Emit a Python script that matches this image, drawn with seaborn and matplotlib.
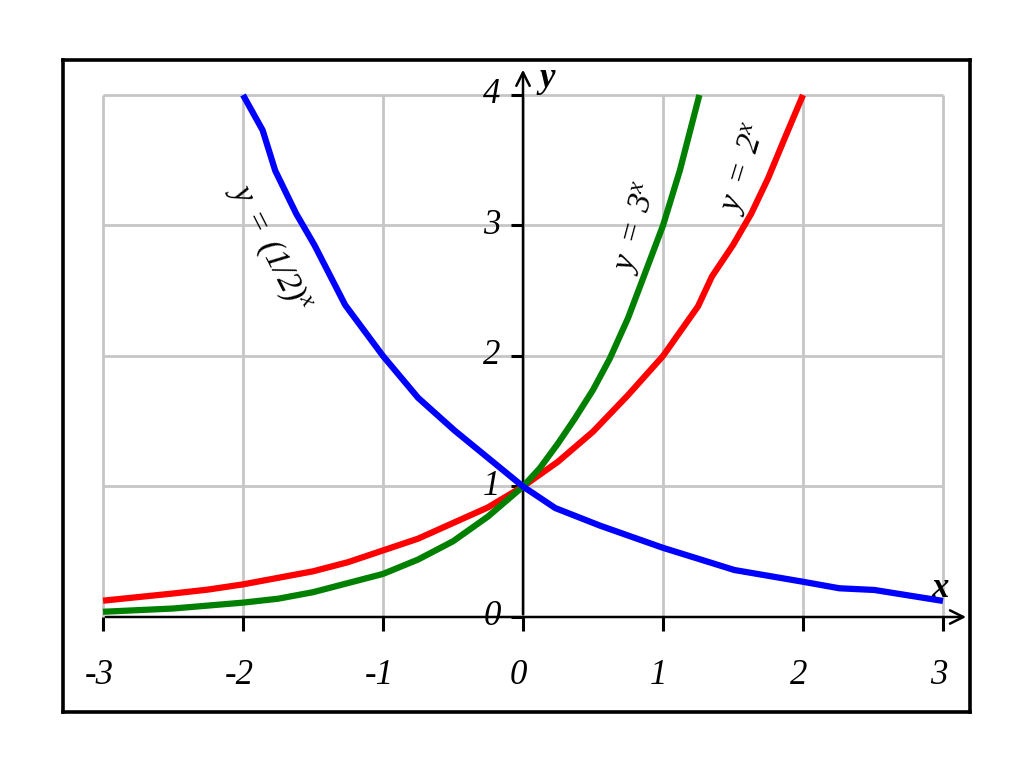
import matplotlib
matplotlib.use("Agg")
import matplotlib.pyplot as plt
import seaborn as sns
import pandas as pd

sns.set_theme(style="white")
plt.rcParams['font.family'] = ['Liberation Serif', 'DejaVu Serif']
plt.rcParams['text.color'] = 'black'
plt.rcParams['mathtext.fontset'] = 'custom'
plt.rcParams['mathtext.it'] = 'Liberation Serif:italic'
plt.rcParams['mathtext.rm'] = 'Liberation Serif:italic'
plt.rcParams['lines.linewidth'] = 4.5

# ---- data ----
blue_x = [-2, -1.86, -1.77, -1.62, -1.49, -1.38, -1.27, -1.0, -0.75, -0.49, 0, 0.23, 0.55, 1.0, 1.51, 2.0, 2.26, 2.51, 3.0]
blue_y = [4.0, 3.73, 3.42, 3.09, 2.85, 2.62, 2.39, 2.0, 1.68, 1.43, 1.0, 0.835, 0.70, 0.53, 0.36, 0.27, 0.22, 0.207, 0.123]

red_x = [-3, -2.5, -2.25, -2, -1.75, -1.5, -1.25, -1, -0.75, -0.5, -0.25, 0, 0.25, 0.5, 0.75, 1, 1.25, 1.35, 1.5, 1.63, 1.75, 1.87, 2]
red_y = [0.125, 0.18, 0.21, 0.25, 0.30, 0.35, 0.42, 0.51, 0.60, 0.72, 0.84, 1.0, 1.19, 1.42, 1.70, 2.0, 2.38, 2.61, 2.85, 3.09, 3.36, 3.67, 4.0]

green_x = [-3, -2.5, -2, -1.75, -1.5, -1.25, -1, -0.75, -0.5, -0.25, 0, 0.12, 0.25, 0.37, 0.5, 0.62, 0.75, 0.87, 1.0, 1.12, 1.26]
green_y = [0.04, 0.065, 0.11, 0.14, 0.19, 0.26, 0.33, 0.44, 0.58, 0.77, 1.0, 1.14, 1.33, 1.52, 1.74, 1.98, 2.29, 2.63, 3.0, 3.42, 4.0]

x_ticks = [-3, -2, -1, 0, 1, 2, 3]
x_tick_labels = ['-3', '-2', '-1', '0', '1', '2', '3']
y_ticks = [0, 1, 2, 3, 4]
y_tick_labels = ['0', '1', '2', '3', '4']
grid_y = [1, 2, 3, 4]

fig = plt.figure(figsize=(10.24, 7.68), dpi=100)
ax = fig.add_axes([63/1024, 1 - 712/768, 907/1024, 652/768])
XL = (-3.286, 3.193)
YL = (-0.728, 4.268)
ax.set_xticks([]); ax.set_yticks([])
for s in ax.spines.values():
    s.set_visible(True)
    s.set_color('black')
    s.set_linewidth(2.6)

# grid
ax.vlines(x_ticks, 0, 4, color='#c6c6c6', lw=2.0, zorder=1)
ax.hlines(grid_y, -3, 3, color='#c6c6c6', lw=2.0, zorder=1)

# axes with arrows
ax.annotate('', xy=(3.185, 0), xytext=(-3, 0),
            arrowprops=dict(arrowstyle='->', color='black', lw=1.8, mutation_scale=24), zorder=3)
ax.annotate('', xy=(0, 4.215), xytext=(0, 0),
            arrowprops=dict(arrowstyle='->', color='black', lw=1.8, mutation_scale=24), zorder=3)
# ticks
ax.vlines(x_ticks, -0.11, 0, color='black', lw=2.2, zorder=3)
ax.hlines(y_ticks, -0.085, 0, color='black', lw=2.2, zorder=3)

# curves
df_b = pd.DataFrame({'x': blue_x, 'y': blue_y})
df_r = pd.DataFrame({'x': red_x, 'y': red_y})
df_g = pd.DataFrame({'x': green_x, 'y': green_y})
for df, col, z in [(df_r, '#ff0000', 4), (df_g, '#008000', 5), (df_b, '#0000ff', 6)]:
    sns.lineplot(data=df, x='x', y='y', ax=ax, color=col, estimator=None, sort=False,
                 linewidth=4.5, zorder=z)
for ln in ax.get_lines():
    ln.set_linewidth(4.5)
    ln.set_solid_joinstyle('round')
    ln.set_solid_capstyle('butt')
ax.set_xlabel(''); ax.set_ylabel('')
ax.set_xlim(*XL)
ax.set_ylim(*YL)

# tick labels
for xv, lab in zip(x_ticks, x_tick_labels):
    ax.text(xv - 0.03, -0.45, lab, ha='center', va='center', fontsize=25, style='italic', color='black')
for yv, lab in zip(y_ticks, y_tick_labels):
    ax.text(-0.16, yv, lab, ha='right', va='center', fontsize=25, style='italic', color='black')

ax.text(0.17, 4.13, 'y', ha='center', va='center', fontsize=25, style='italic', weight='bold', color='black')
ax.text(2.98, 0.22, 'x', ha='center', va='center', fontsize=25, style='italic', weight='bold', color='black')

# curve labels
ax.text(-1.81, 2.83, r'$y\;=\;(1/2)^{x}$', rotation=-63, ha='center', va='center', fontsize=24, color='black')
ax.text(0.81, 2.98, r'$y\;=\;3^{x}$', rotation=75, ha='center', va='center', fontsize=24, color='black')
ax.text(1.58, 3.43, r'$y\;=\;2^{x}$', rotation=73, ha='center', va='center', fontsize=24, color='black')

fig.savefig('out.png', dpi=100)
